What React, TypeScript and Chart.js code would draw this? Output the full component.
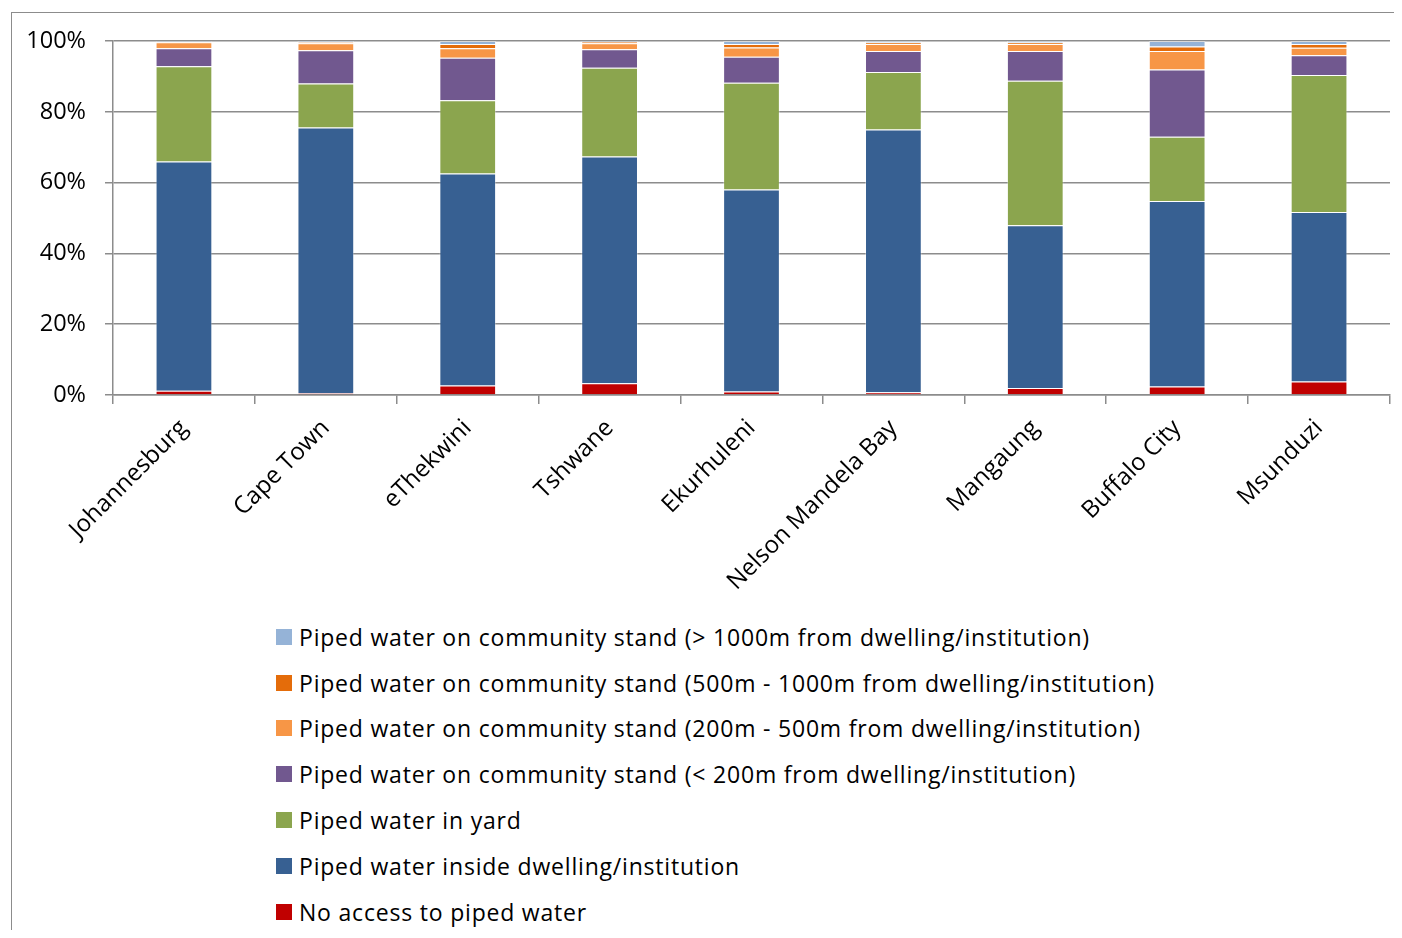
import React, { useEffect, useRef } from "react";
import { Chart, registerables } from "chart.js";

Chart.register(...registerables);

const categories = [
  "Johannesburg",
  "Cape Town",
  "eThekwini",
  "Tshwane",
  "Ekurhuleni",
  "Nelson Mandela Bay",
  "Mangaung",
  "Buffalo City",
  "Msunduzi",
];

const noAccess = [1.2, 0.5, 2.7, 3.3, 1.0, 0.8, 2.0, 2.4, 3.8];
const insideDwelling = [64.8, 75.1, 59.9, 64.1, 57.1, 74.2, 46.0, 52.4, 47.9];
const inYard = [26.9, 12.4, 20.7, 25.1, 30.1, 16.3, 40.8, 18.2, 38.7];
const standUnder200 = [5.1, 9.4, 12.0, 5.2, 7.4, 5.9, 8.4, 19.0, 5.6];
const stand200to500 = [1.7, 2.0, 2.7, 1.7, 2.6, 2.0, 2.0, 5.2, 2.1];
const stand500to1000 = [0.1, 0.3, 1.2, 0.4, 1.0, 0.4, 0.4, 1.3, 1.1];
const standOver1000 = [0.2, 0.3, 0.8, 0.2, 0.8, 0.4, 0.4, 1.5, 0.8];

const yTicks = [0, 20, 40, 60, 80, 100];

const seriesNames = [
  "No access to piped water",
  "Piped water inside dwelling/institution",
  "Piped water in yard",
  "Piped water on community stand (< 200m from dwelling/institution)",
  "Piped water on community stand (200m - 500m from dwelling/institution)",
  "Piped water on community stand (500m - 1000m from dwelling/institution)",
  "Piped water on community stand (> 1000m from dwelling/institution)",
];
const seriesValues = [
  noAccess,
  insideDwelling,
  inYard,
  standUnder200,
  stand200to500,
  stand500to1000,
  standOver1000,
];
const seriesColors = [
  "#C00000",
  "#376092",
  "#8BA54E",
  "#71588F",
  "#F79646",
  "#E46C0A",
  "#95B3D7",
];

const FONT = "'Open Sans', Lato, 'Noto Sans', sans-serif";

export default function App() {
  const canvasRef = useRef<HTMLCanvasElement | null>(null);

  useEffect(() => {
    if (!canvasRef.current) return;
    const chart = new Chart(canvasRef.current, {
      type: "bar",
      data: {
        labels: categories,
        datasets: seriesNames.map((name, i) => ({
          label: name,
          data: seriesValues[i],
          backgroundColor: seriesColors[i],
          borderColor: "rgba(255,255,255,0.35)",
          borderWidth: 1,
          categoryPercentage: 1,
          barPercentage: 0.4,
        })),
      },
      options: {
        animation: false,
        responsive: true,
        maintainAspectRatio: false,
        layout: { padding: { top: 31, right: 12, left: 0, bottom: 0 } },
        plugins: {
          legend: { display: false },
          tooltip: { enabled: false },
        },
        scales: {
          x: {
            stacked: true,
            afterFit: (scale: any) => {
              scale.height = 213;
            },
            grid: {
              offset: true,
              drawOnChartArea: false,
              drawTicks: true,
              tickLength: 9,
              color: "#8c8c8c",
              lineWidth: 1.5,
            },
            border: { color: "#8c8c8c", width: 1.5 },
            ticks: {
              minRotation: 45,
              maxRotation: 45,
              autoSkip: false,
              padding: 10,
              color: "#000",
              font: { family: FONT, size: 24 },
            },
          },
          y: {
            stacked: true,
            min: 0,
            max: 100,
            afterFit: (scale: any) => {
              scale.width = 105;
            },
            afterBuildTicks: (scale: any) => {
              scale.ticks = yTicks.map((v) => ({ value: v }));
            },
            grid: {
              color: "#8c8c8c",
              lineWidth: 1.5,
              drawTicks: true,
              tickLength: 8,
            },
            border: { color: "#8c8c8c", width: 1.5 },
            ticks: {
              padding: 19,
              color: "#000",
              font: { family: FONT, size: 23.5 },
              callback: (v: any) => v + "%",
            },
          },
        },
      },
    });
    return () => chart.destroy();
  }, []);

  const legendOrder = [6, 5, 4, 3, 2, 1, 0];

  return (
    <div style={{ position: "relative", width: 1394, height: 922, overflow: "hidden" }}>
      <div
        style={{
          position: "absolute",
          left: 3,
          top: 4,
          width: 1391,
          height: 930,
          borderLeft: "1.5px solid #8c8c8c",
          borderTop: "1.5px solid #8c8c8c",
          boxSizing: "border-box",
        }}
      />
      <div style={{ position: "absolute", left: 0, top: 0, width: 1394, height: 600 }}>
        <canvas ref={canvasRef} />
      </div>
      <div
        style={{
          position: "absolute",
          left: 268,
          top: 606,
          fontFamily: FONT,
          fontSize: 23,
          letterSpacing: "0.8px",
          color: "#000",
        }}
      >
        {legendOrder.map((idx) => (
          <div
            key={idx}
            style={{
              display: "flex",
              alignItems: "center",
              height: 45.8,
              whiteSpace: "nowrap",
            }}
          >
            <span
              style={{
                display: "inline-block",
                width: 16,
                height: 16,
                background: seriesColors[idx],
                marginRight: 7,
              }}
            />
            <span>{seriesNames[idx]}</span>
          </div>
        ))}
      </div>
    </div>
  );
}
